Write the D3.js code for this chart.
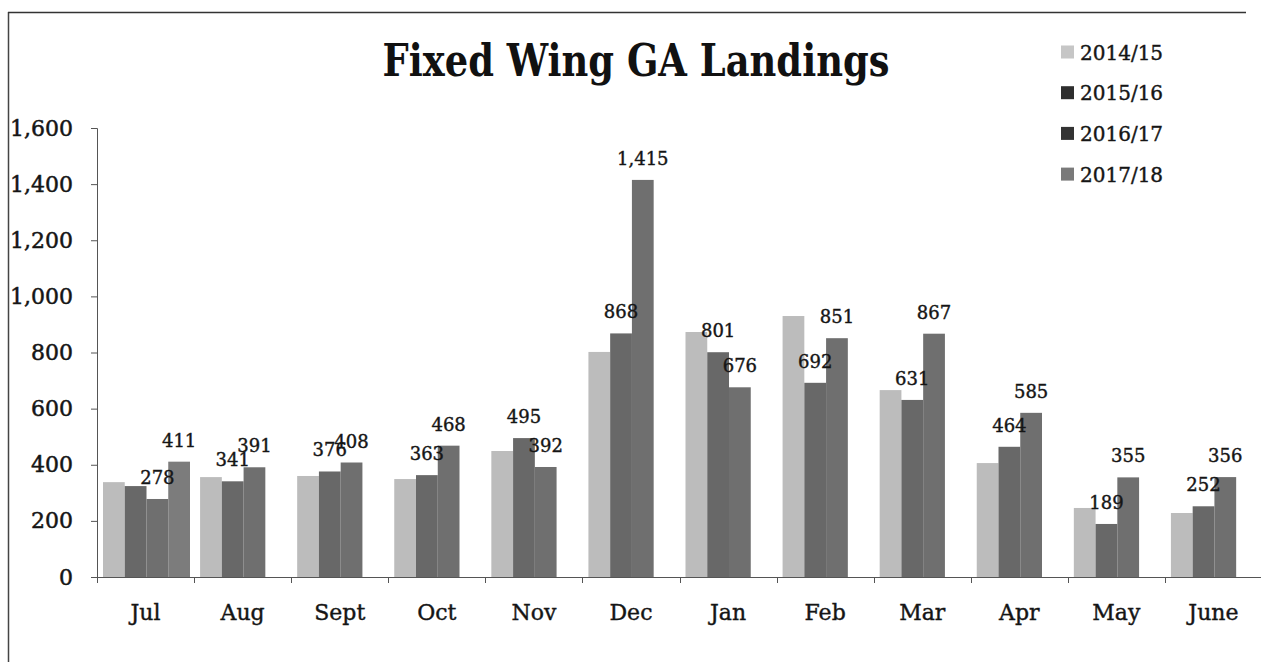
<!DOCTYPE html>
<html>
<head>
<meta charset="utf-8">
<script src="https://cdn.jsdelivr.net/npm/d3@7"></script>
<style>
  html, body { margin: 0; padding: 0; background: #ffffff; }
  svg { display: block; }
</style>
</head>
<body>
<svg id="chart" width="1261" height="662"></svg>
<script>
// ---- data ----
const months = ["Jul", "Aug", "Sept", "Oct", "Nov", "Dec", "Jan", "Feb", "Mar", "Apr", "May", "June"];
const seriesNames = ["2014/15", "2015/16", "2016/17", "2017/18"];
const v2014_15 = [338, 356, 360, 349, 449, 802, 873, 930, 666, 406, 246, 228];
const v2015_16 = [324, 341, 376, 363, 495, 868, 801, 692, 631, 464, 189, 252];
const v2016_17 = [278, 391, 408, 468, 392, 1415, 676, 851, 867, 585, 355, 356];
const v2017_18 = [411, null, null, null, null, null, null, null, null, null, null, null];
const labelledSeries = ["2015/16", "2016/17", "2017/18"];
const hiddenLabels = [["2015/16", "Jul"]];
const yTicks = [0, 200, 400, 600, 800, 1000, 1200, 1400, 1600];

// ---- styles ----
const barColors = ["#bcbcbc", "#686868", "#6f6f6f", "#7c7c7c"];
const swatchColors = ["#c6c6c6", "#2e2e2e", "#333333", "#7a7a7a"];
const serif = "'DejaVu Serif', 'Liberation Serif', serif";
const ink = "#151515";

const valuesBySeries = [v2014_15, v2015_16, v2016_17, v2017_18];
const rows = [];
months.forEach((m, i) => {
  seriesNames.forEach((s, j) => {
    const v = valuesBySeries[j][i];
    if (v !== null && v !== undefined) rows.push({ month: m, series: s, value: v, si: j });
  });
});

const svg = d3.select("#chart");

const x0 = d3.scaleBand().domain(months).range([97, 1262]).paddingInner(0).paddingOuter(0);
const x1 = d3.scaleBand().domain(seriesNames).range([6, 93]);
const y = d3.scaleLinear().domain([0, 1600]).range([577, 128]);
const color = d3.scaleOrdinal().domain(seriesNames).range(barColors);

function thicken(sel, w) {
  sel.attr("stroke", ink).attr("stroke-width", w).attr("paint-order", "stroke");
}

// frame
svg.append("line").attr("x1", 8.5).attr("x2", 8.5).attr("y1", 12).attr("y2", 662)
  .attr("stroke", "#444").attr("stroke-width", 1.5);
svg.append("line").attr("x1", 8).attr("x2", 1246).attr("y1", 12.5).attr("y2", 12.5)
  .attr("stroke", "#333").attr("stroke-width", 1.5);

// bars
svg.append("g").selectAll("rect").data(rows).join("rect")
  .attr("x", d => x0(d.month) + x1(d.series))
  .attr("width", x1.bandwidth())
  .attr("y", d => y(d.value))
  .attr("height", d => y(0) - y(d.value))
  .attr("fill", d => color(d.series));

// y axis
const yAxis = svg.append("g").attr("transform", "translate(97,0)")
  .call(d3.axisLeft(y).tickValues(yTicks).tickFormat(d3.format(",")).tickSize(6).tickSizeOuter(6).tickPadding(18));
yAxis.select(".domain").attr("stroke", "#555");
yAxis.selectAll(".tick line").attr("stroke", "#555");
yAxis.selectAll("text").attr("font-family", serif).attr("font-size", 22).attr("fill", ink).call(thicken, 0.5);

// x axis
const xAxis = svg.append("g").attr("transform", "translate(0,577)")
  .call(d3.axisBottom(x0).tickSize(0).tickPadding(27).tickSizeOuter(0));
xAxis.select(".domain").attr("stroke", "#555").attr("d", "M91,0.5H1262");
xAxis.selectAll("text").attr("font-family", serif).attr("font-size", 22).attr("fill", ink).call(thicken, 0.4);
const boundaries = months.map(m => x0(m)).concat([x0.range()[1]]);
xAxis.append("g").selectAll("line").data(boundaries).join("line")
  .attr("x1", d => Math.round(d) + 0.5).attr("x2", d => Math.round(d) + 0.5)
  .attr("y1", 0).attr("y2", 6).attr("stroke", "#555");

// data labels
const fmt = d3.format(",");
const isHidden = d => hiddenLabels.some(h => h[0] === d.series && h[1] === d.month);
svg.append("g").selectAll("text")
  .data(rows.filter(d => labelledSeries.includes(d.series) && !isHidden(d)))
  .join("text")
  .attr("x", d => x0(d.month) + x1(d.series) + x1.bandwidth() / 2)
  .attr("y", d => y(d.value) - 15)
  .attr("text-anchor", "middle")
  .attr("font-family", serif).attr("font-size", 18).attr("fill", ink)
  .call(thicken, 0.4)
  .text(d => fmt(d.value));

// title (bold serif, horizontally compressed to the reference width)
const title = svg.append("text")
  .attr("x", 0).attr("y", 0)
  .attr("text-anchor", "middle")
  .attr("font-family", serif).attr("font-weight", "bold").attr("font-size", 44)
  .attr("fill", "#111")
  .text("Fixed Wing GA Landings");
const tw = title.node().getComputedTextLength();
title.attr("transform", `translate(636,76) scale(${507 / tw},1)`);

// legend
const legend = svg.append("g").selectAll("g").data(seriesNames).join("g")
  .attr("transform", (d, i) => `translate(1061, ${52 + i * 40.7})`);
legend.append("rect").attr("x", 0).attr("y", -6.5).attr("width", 13).attr("height", 13)
  .attr("fill", (d, i) => swatchColors[i]);
legend.append("text").attr("x", 19).attr("y", 7.5)
  .attr("font-family", serif).attr("font-size", 20).attr("fill", ink)
  .call(thicken, 0.4)
  .text(d => d);
</script>
</body>
</html>
